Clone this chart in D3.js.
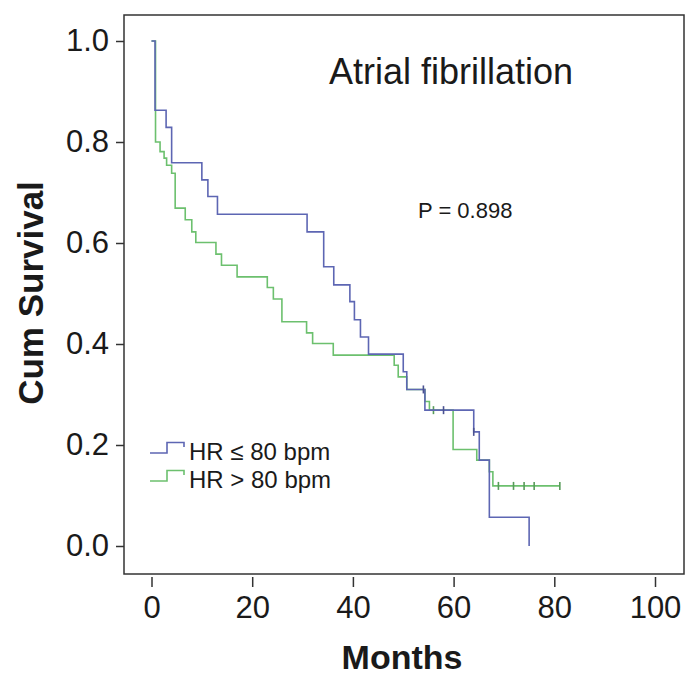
<!DOCTYPE html>
<html>
<head>
<meta charset="utf-8">
<script src="https://cdn.jsdelivr.net/npm/d3@7"></script>
<style>
  html, body { margin: 0; padding: 0; background: #fff; }
  svg { display: block; }
  text { font-family: "Liberation Sans", Arial, Helvetica, sans-serif; fill: #1a1a1a; }
</style>
</head>
<body>
<svg id="chart" width="698" height="677"></svg>
<script>
// ---- Data ----
const seriesNames = ["HR \u2264 80 bpm", "HR > 80 bpm"];

// HR <= 80 bpm : step times (months) and cumulative survival after each step
const lowTimes = [0, 0.7, 2.9, 4.0, 10.0, 11.2, 13.1, 30.9, 34.2, 36.2, 39.4, 40.3, 41.5, 43.1, 50.0, 50.7, 54.3, 64.0, 65.1, 67.1, 75.0];
const lowSurv  = [1.0, 0.863, 0.829, 0.759, 0.725, 0.692, 0.657, 0.622, 0.553, 0.517, 0.484, 0.448, 0.414, 0.380, 0.345, 0.310, 0.269, 0.226, 0.170, 0.057, 0.0];
const lowCensorTimes = [54.0, 58.0, 64.0];
const lowCensorSurv  = [0.310, 0.269, 0.226];

// HR > 80 bpm
const highTimes = [0, 0.8, 1.7, 2.5, 3.0, 4.0, 4.7, 6.7, 8.0, 8.8, 12.8, 13.9, 17.0, 23.0, 24.2, 25.9, 30.8, 32.0, 36.1, 48.2, 49.0, 50.7, 54.3, 55.2, 59.9, 64.6, 67.1, 67.8, 81.1];
const highSurv  = [1.0, 0.800, 0.781, 0.768, 0.754, 0.738, 0.669, 0.646, 0.622, 0.601, 0.578, 0.556, 0.533, 0.512, 0.489, 0.444, 0.422, 0.401, 0.378, 0.358, 0.335, 0.310, 0.286, 0.269, 0.191, 0.170, 0.147, 0.119, 0.119];
const highCensorTimes = [56.0, 68.9, 71.9, 74.0, 76.0, 81.1];
const highCensorSurv  = [0.269, 0.119, 0.119, 0.119, 0.119, 0.119];

const xTicks = [0, 20, 40, 60, 80, 100];
const yTicks = [0.0, 0.2, 0.4, 0.6, 0.8, 1.0];

const titleText = "Atrial fibrillation";
const pText = "P = 0.898";
const xLabel = "Months";
const yLabel = "Cum Survival";

// ---- Layout ----
const svg = d3.select("#chart");
const frame = { left: 124, right: 684, top: 15, bottom: 574 };
const colors = ["#5d66b3", "#6cc06e"];

const x = d3.scaleLinear().domain([0, 100]).range([151.5, 655]);
const y = d3.scaleLinear().domain([0, 1]).range([546, 41]);

// Frame
svg.append("rect")
  .attr("x", frame.left).attr("y", frame.top)
  .attr("width", frame.right - frame.left).attr("height", frame.bottom - frame.top)
  .attr("fill", "none").attr("stroke", "#333").attr("stroke-width", 1.5);

// Y axis
const yAxis = svg.append("g").attr("transform", `translate(${frame.left},0)`)
  .call(d3.axisLeft(y).tickValues(yTicks).tickFormat(d3.format(".1f")).tickSize(8).tickPadding(7));
yAxis.select(".domain").remove();
yAxis.selectAll("line").attr("stroke", "#333").attr("stroke-width", 1.5);
yAxis.selectAll("text").attr("font-size", 31).attr("fill", "#1a1a1a")
  .attr("font-family", "'Liberation Sans', Arial, sans-serif");

// X axis (ticks detached slightly below frame)
const xAxis = svg.append("g").attr("transform", `translate(0,${frame.bottom + 3})`)
  .call(d3.axisBottom(x).tickValues(xTicks).tickFormat(d3.format("d")).tickSize(10).tickPadding(9));
xAxis.select(".domain").remove();
xAxis.selectAll("line").attr("stroke", "#333").attr("stroke-width", 1.5);
xAxis.selectAll("text").attr("font-size", 31).attr("fill", "#1a1a1a")
  .attr("font-family", "'Liberation Sans', Arial, sans-serif");

// Axis titles
svg.append("text").attr("x", 402).attr("y", 669).attr("text-anchor", "middle")
  .attr("font-size", 34).attr("font-weight", "bold").text(xLabel);
svg.append("text").attr("transform", "translate(43,293) rotate(-90)").attr("text-anchor", "middle")
  .attr("font-size", 35).attr("font-weight", "bold").text(yLabel);

// Title and P value
svg.append("text").attr("x", 329).attr("y", 84).attr("font-size", 36).text(titleText);
svg.append("text").attr("x", 418).attr("y", 218).attr("font-size", 22).attr("fill", "#333").text(pText);

// Curves
const line = d3.line().x(d => x(d[0])).y(d => y(d[1])).curve(d3.curveStepAfter);
const series = [
  { t: lowTimes, s: lowSurv, ct: lowCensorTimes, cs: lowCensorSurv, color: colors[0] },
  { t: highTimes, s: highSurv, ct: highCensorTimes, cs: highCensorSurv, color: colors[1] }
];
// draw green first, blue over it
[series[1], series[0]].forEach(sr => {
  const pts = sr.t.map((t, i) => [t, sr.s[i]]);
  svg.append("path").datum(pts).attr("d", line)
    .attr("fill", "none").attr("stroke", sr.color).attr("stroke-width", 1.6);
  const cpts = sr.ct.map((t, i) => [t, sr.cs[i]]);
  svg.append("g").selectAll("line").data(cpts).join("line")
    .attr("x1", d => x(d[0])).attr("x2", d => x(d[0]))
    .attr("y1", d => y(d[1]) - 4).attr("y2", d => y(d[1]) + 4)
    .attr("stroke", d3.color(sr.color).darker(0.6)).attr("stroke-width", 1.6);
});

// Legend
const legendRows = [
  { name: seriesNames[0], color: colors[0], base: 453 },
  { name: seriesNames[1], color: colors[1], base: 481 }
];
legendRows.forEach(r => {
  const p = d3.path();
  p.moveTo(150, r.base);
  p.lineTo(167, r.base);
  p.lineTo(167, r.base - 10.5);
  p.lineTo(184, r.base - 10.5);
  p.lineTo(184, r.base - 6);
  svg.append("path").attr("d", p.toString()).attr("fill", "none")
    .attr("stroke", r.color).attr("stroke-width", 1.6);
  svg.append("text").attr("x", 189).attr("y", r.base + 7).attr("font-size", 24)
    .attr("fill", "#333").text(r.name);
});
</script>
</body>
</html>
